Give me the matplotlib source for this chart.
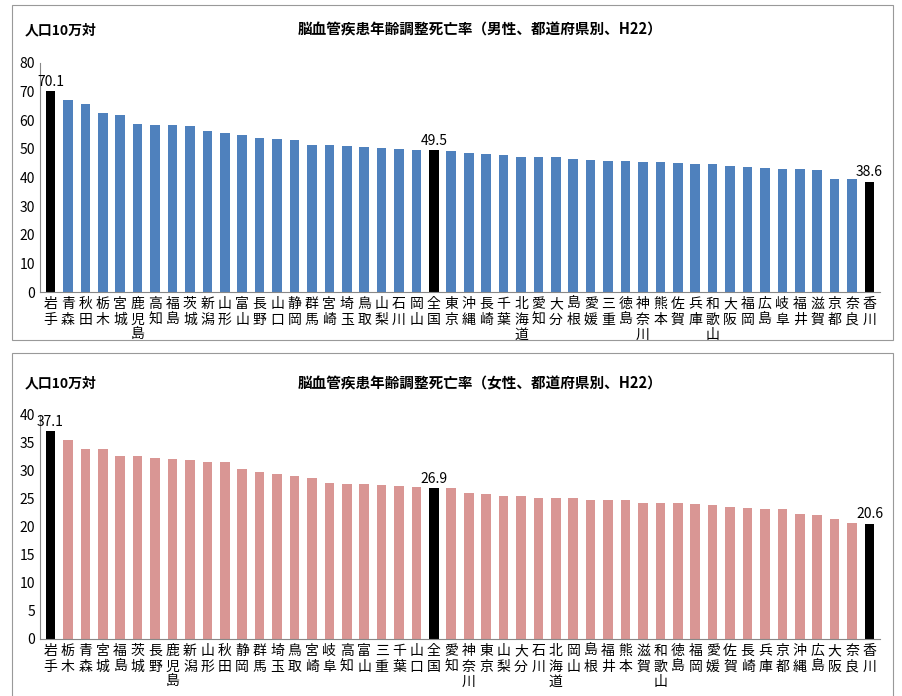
import matplotlib
matplotlib.use("Agg")
import matplotlib.pyplot as plt
from matplotlib.patches import Rectangle

plt.rcParams['font.family'] = ['Noto Sans CJK JP', 'DejaVu Sans']

male_names = ["岩手","青森","秋田","栃木","宮城","鹿児島","高知","福島","茨城","新潟","山形","富山","長野","山口","静岡","群馬","宮崎","埼玉","鳥取","山梨","石川","岡山","全国","東京","沖縄","長崎","千葉","北海道","愛知","大分","島根","愛媛","三重","徳島","神奈川","熊本","佐賀","兵庫","和歌山","大阪","福岡","広島","岐阜","福井","滋賀","京都","奈良","香川"]
male_vals = [70.1,67.2,65.6,62.7,61.8,58.6,58.2,58.2,58.1,56.1,55.7,54.9,53.8,53.4,53.0,51.3,51.2,50.9,50.8,50.3,49.8,49.7,49.5,49.2,48.4,48.3,47.7,47.3,47.3,47.2,46.3,46.0,45.6,45.6,45.5,45.4,45.2,44.7,44.7,43.9,43.8,43.4,43.1,42.8,42.6,39.5,39.5,38.6]
female_names = ["岩手","栃木","青森","宮城","福島","茨城","長野","鹿児島","新潟","山形","秋田","静岡","群馬","埼玉","鳥取","宮崎","岐阜","高知","富山","三重","千葉","山口","全国","愛知","神奈川","東京","山梨","大分","石川","北海道","岡山","島根","福井","熊本","滋賀","和歌山","徳島","福岡","愛媛","佐賀","長崎","兵庫","京都","沖縄","広島","大阪","奈良","香川"]
female_vals = [37.1,35.6,34.0,33.9,32.7,32.6,32.3,32.2,32.0,31.6,31.6,30.3,29.8,29.5,29.1,28.7,27.9,27.7,27.7,27.5,27.3,27.1,26.9,26.9,26.1,25.9,25.6,25.6,25.2,25.2,25.2,24.9,24.9,24.8,24.3,24.3,24.3,24.1,24.0,23.6,23.4,23.2,23.2,22.4,22.1,21.5,20.7,20.6]

fig = plt.figure(figsize=(9.03, 6.96), dpi=100)
W, H = 903, 696
for y0, y1 in [(5, 340), (353, 700)]:
    fig.patches.append(Rectangle((12/W, 1-y1/H), 881/W, (y1-y0)/H, transform=fig.transFigure,
                                 fill=False, edgecolor='#999999', lw=0.8))

def panel(rect, names, vals, color, ymax, labidx):
    ax = fig.add_axes(rect)
    cols = ['black' if n in ("岩手", "全国", "香川") else color for n in names]
    x = range(len(names))
    ax.bar(x, vals, width=0.55, color=cols)
    ax.set_xlim(-0.6, len(names)-0.4)
    ax.set_ylim(0, ymax)
    ax.set_yticks(range(0, ymax+1, 10 if ymax == 80 else 5))
    ax.tick_params(axis='y', labelsize=10, length=0)
    ax.set_xticks(list(x))
    ax.set_xticklabels(["\n".join(n) for n in names], fontsize=10, linespacing=1.15, va='top')
    ax.tick_params(axis='x', length=0)
    for s in ['top', 'right']:
        ax.spines[s].set_visible(False)
    ax.spines['left'].set_color('#888888')
    ax.spines['bottom'].set_color('#888888')
    for i in labidx:
        ax.text(i, vals[i] + ymax*0.012, f"{vals[i]:.1f}", ha='center', va='bottom', fontsize=10)
    return ax

panel([40/W, 1-292/H, 840/W, 229/H], male_names, male_vals, '#4f81bd', 80, [0, 22, 47])
panel([40/W, 1-639/H, 840/W, 224/H], female_names, female_vals, '#d99694', 40, [0, 22, 47])
fig.text(25/W, 1-30/H, "人口10万対", fontsize=10, fontweight='bold', va='center')
fig.text(480/W, 1-30/H, "脳血管疾患年齢調整死亡率（男性、都道府県別、H22）", fontsize=10.5, fontweight='bold', ha='center', va='center')
fig.text(25/W, 1-383/H, "人口10万対", fontsize=10, fontweight='bold', va='center')
fig.text(480/W, 1-383/H, "脳血管疾患年齢調整死亡率（女性、都道府県別、H22）", fontsize=10.5, fontweight='bold', ha='center', va='center')
fig.savefig("out.png", dpi=100)
